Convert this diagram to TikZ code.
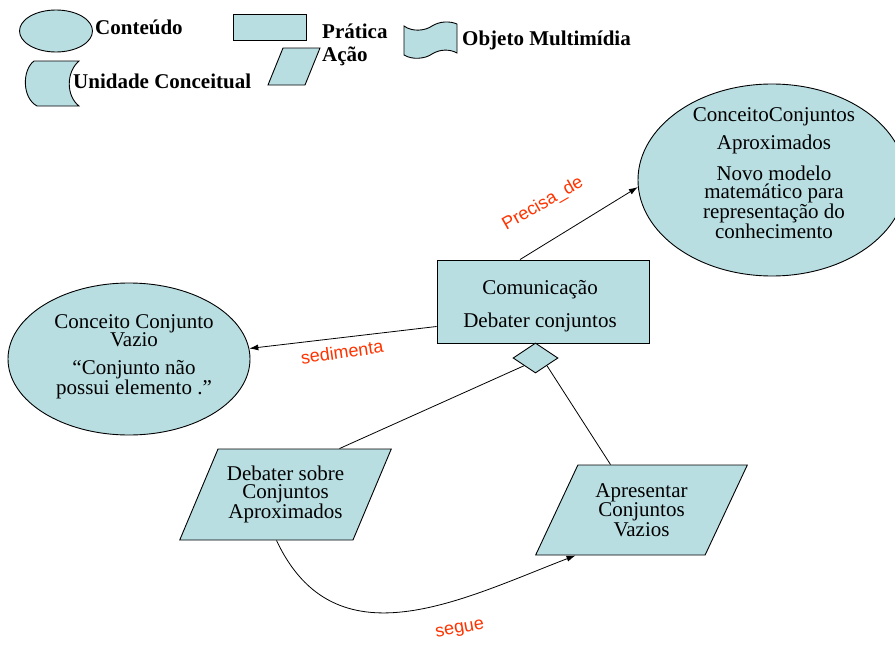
\documentclass[tikz,border=0pt]{standalone}
\usepackage{fontspec}
\setmainfont{Liberation Serif}
\newfontfamily\labelfont{Liberation Sans}
\usetikzlibrary{shapes.geometric,arrows.meta,calc}
\definecolor{shapefill}{RGB}{184,222,226}
\definecolor{relred}{RGB}{255,51,0}

\begin{document}
\begin{tikzpicture}[x=1pt,y=-1pt,
  shapebase/.style={draw=black, line width=0.9pt, fill=shapefill, inner sep=0pt},
  contentnode/.style={shapebase, ellipse},
  practicenode/.style={shapebase, rectangle},
  actionnode/.style={shapebase, trapezium, trapezium left angle=60,
    trapezium right angle=120, trapezium stretches=true,
    align=center, font=\fontsize{21}{18.5}\selectfont},
  bodytext/.style={font=\fontsize{21}{18}\selectfont, align=center, inner sep=0pt},
  legendtext/.style={font=\fontsize{21}{23}\selectfont\bfseries, anchor=west, inner sep=0pt},
  relation/.style={line width=0.8pt},
  relarrow/.style={relation, -{Latex[length=9pt,width=6pt]}},
  rellabel/.style={font=\labelfont\fontsize{18}{20}\selectfont, text=relred, inner sep=0pt},
]
\useasboundingbox (0,0) rectangle (895,645);

% ---- legend ----
\node[contentnode, minimum width=73, minimum height=42] (legcontent) at (56,31) {};
\node[legendtext] (legcontenttext) at (95,27) {Conteúdo};

\node[practicenode, minimum width=73, minimum height=26] (legpractice) at (269.5,27) {};
\node[legendtext] (legpracticetext) at (322,31) {Prática};

% action symbol
\draw[shapebase] (283,48) -- (320,48) -- (305,85) -- (268,85) -- cycle;
\node[legendtext] (legactiontext) at (322,56) {Ação};

% multimedia object: wavy tape symbol
\draw[shapebase] (404,26) .. controls (412,32) and (425,31) .. (432,26)
  .. controls (440,21) and (450,21) .. (457,24) -- (457,53)
  .. controls (450,49) and (440,49) .. (432,54)
  .. controls (425,59) and (412,60) .. (404,55) -- cycle;
\node[legendtext] (legmediatext) at (462,40) {Objeto Multimídia};

% conceptual unit: stored-data symbol
\draw[shapebase] (79,61) -- (34,61) .. controls (22,70) and (22,98) .. (37,106)
  -- (79,106) .. controls (66,96) and (66,72) .. (79,61) -- cycle;
\node[legendtext] (legunittext) at (73,81) {Unidade Conceitual};

% ---- concepts ----
\node[contentnode, minimum width=268, minimum height=192] (aprox) at (772,180) {};
\node[bodytext] (aproxtext) at (774,173)
  {ConceitoConjuntos\\[8pt]Aproximados\\[11pt]Novo modelo\\matemático para\\representação do\\conhecimento};

\node[contentnode, minimum width=242, minimum height=152] (vazio) at (129,359) {};
\node[bodytext, font=\fontsize{21}{17}\selectfont] (vaziotext) at (134,357)
  {Conceito Conjunto\\[-1pt]Vazio\\[11pt]“Conjunto não\\possui elemento .”};

% ---- practice ----
\node[practicenode, minimum width=212, minimum height=83] (comm) at (543,301.5) {};
\node[bodytext] (commtext) at (540,306) {Comunicação\\[13pt]Debater conjuntos};

\node[shapebase, diamond, minimum width=45, minimum height=30] (dia) at (535.5,358) {};

% ---- actions ----
\node[actionnode, minimum width=212, minimum height=91] (debater) at (285.5,494.5)
  {Debater sobre\\Conjuntos\\Aproximados};

\node[actionnode, font=\fontsize{21}{17.5}\selectfont, minimum width=212, minimum height=90]
  (apres) at (641.5,510) {Apresentar\\Conjuntos\\Vazios};

% ---- relations ----
\draw[relarrow] ([xshift=-23]comm.north) -- (aprox.183);
\node[rellabel, rotate=30] (lblprecisa) at (543,204) {Precisa\_de};

\draw[relarrow] ([yshift=-25]comm.west) -- (vazio.5);
\node[rellabel, rotate=8] (lblsedimenta) at (342,352) {sedimenta};

\draw[relation] (dia.south west) -- ([xshift=54]debater.north);
\draw[relation] (dia.south east) -- ([xshift=-31]apres.north);

\draw[relarrow] ([xshift=-9]debater.south) .. controls (335,665) and (460,600)
  .. ([xshift=-66]apres.south);
\node[rellabel, rotate=10] (lblsegue) at (460,630) {segue};
\end{tikzpicture}
\end{document}
